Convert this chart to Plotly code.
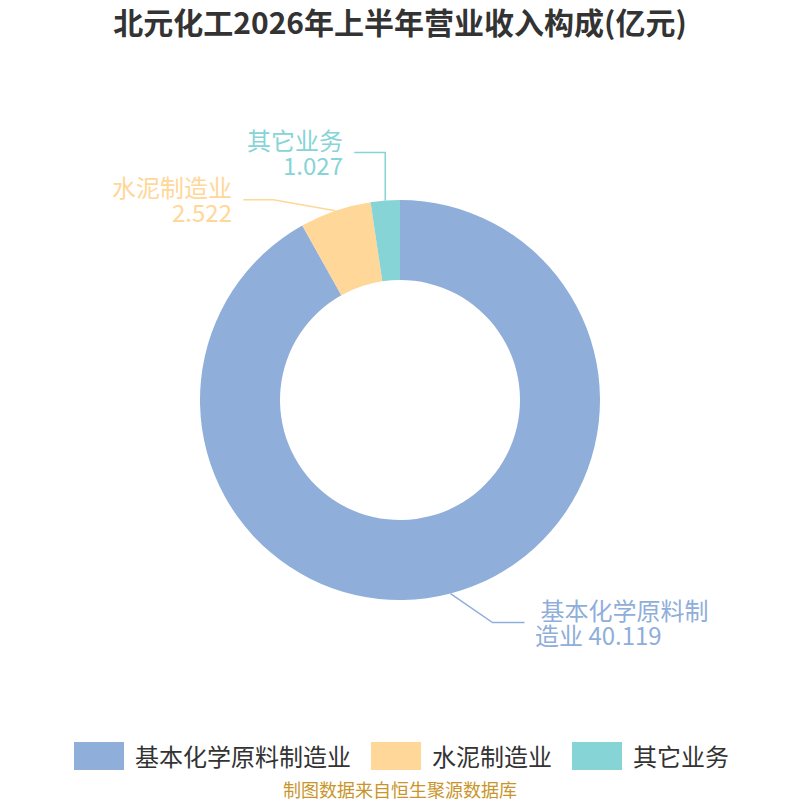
import math
import plotly.graph_objects as go

# data
categories = ["基本化学原料制造业", "水泥制造业", "其它业务"]
values = [40.119, 2.522, 1.027]
colors = ["#8FAEDA", "#FFD799", "#87D4D6"]
label_lines = [["\u00a0基本化学原料制", "造业 40.119"], ["水泥制造业", "2.522"], ["其它业务", "1.027"]]

# the page body has an 8px margin, so the figure is drawn 8px in
OFF = 8
W, H = 800 - OFF, 800 - OFF
CX, CY, R = 400, 400, 200
FONT = "Noto Sans CJK SC, Noto Sans, sans-serif"


def px(x):
    return (x - OFF) / W


def py(y):
    return 1 - (y - OFF) / H


fig = go.Figure(go.Pie(
    labels=categories,
    values=values,
    marker=dict(colors=colors, line=dict(width=0)),
    hole=0.6,
    sort=False,
    direction="clockwise",
    rotation=0,
    textinfo="none",
    hoverinfo="label+value+percent",
    domain=dict(x=[px(CX - R), px(CX + R)], y=[py(CY + R), py(CY - R)]),
    showlegend=False,
))

# leader line style per slice: elbow offset from slice edge, horizontal run, label side
leader = [
    dict(dx=42, dy=29, run=32, side="left"),
    dict(dx=-62, dy=-11, run=-30, side="right"),
    dict(dx=0, dy=-48, run=-31, side="right"),
]

total = sum(values)
start = 0.0
shapes = []
annotations = []
for i, v in enumerate(values):
    mid = start + v / total * 360 / 2
    start += v / total * 360
    a = math.radians(mid)
    x0 = CX + R * math.sin(a)
    y0 = CY - R * math.cos(a)
    st = leader[i]
    x1, y1 = x0 + st["dx"], y0 + st["dy"]
    x2 = x1 + st["run"]
    shapes.append(dict(
        type="path", xref="paper", yref="paper",
        path=f"M {px(x0)} {py(y0)} L {px(x1)} {py(y1)} L {px(x2)} {py(y1)}",
        line=dict(color=colors[i], width=1.5),
    ))
    if st["side"] == "left":
        tx, anchor = x2 + 8, "left"
    else:
        tx, anchor = x2 - 9, "right"
    for k, line in enumerate(label_lines[i]):
        annotations.append(dict(
            x=px(tx), y=py(y1 - 13 + k * 25), xref="paper", yref="paper",
            text=line, showarrow=False, xanchor=anchor, yanchor="middle",
            font=dict(family=FONT, size=24, color=colors[i]),
        ))

# custom legend
legend_x = [74, 371, 572]
for i, name in enumerate(categories):
    x = legend_x[i]
    shapes.append(dict(
        type="rect", xref="paper", yref="paper",
        x0=px(x), x1=px(x + 50), y0=py(770), y1=py(742),
        fillcolor=colors[i], line=dict(width=0),
    ))
    annotations.append(dict(
        x=px(x + 59), y=py(755), xref="paper", yref="paper",
        text=name, showarrow=False, xanchor="left", yanchor="middle",
        font=dict(family=FONT, size=24, color="#333333"),
    ))

annotations.append(dict(
    x=px(400), y=py(789), xref="paper", yref="paper",
    text="制图数据来自恒生聚源数据库", showarrow=False,
    xanchor="center", yanchor="middle",
    font=dict(family=FONT, size=18, color="#C9952B"),
))

fig.update_layout(
    width=W, height=H,
    margin=dict(l=0, r=0, t=0, b=0, autoexpand=False),
    paper_bgcolor="white",
    title=dict(
        text="<b>北元化工2026年上半年营业收入构成(亿元)</b>",
        x=px(400), xanchor="center", y=py(23), yanchor="middle",
        font=dict(family=FONT, size=30, color="#333333"),
    ),
    shapes=shapes,
    annotations=annotations,
)

fig.write_html("out.html")
